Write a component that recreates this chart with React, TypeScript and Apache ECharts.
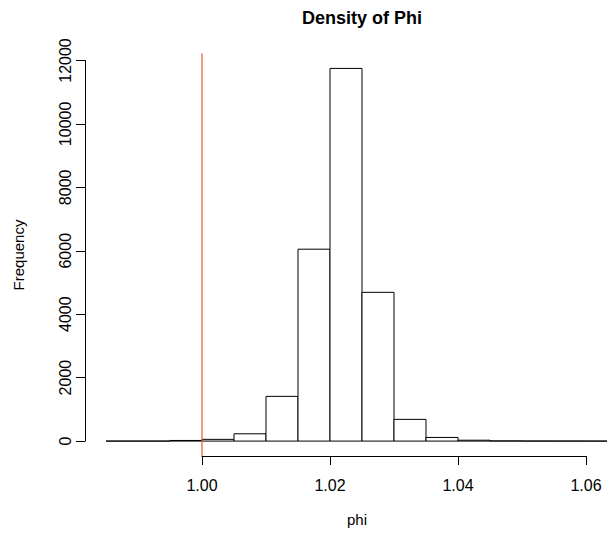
import { useEffect, useRef } from "react";
import * as echarts from "echarts";

// Histogram breaks and counts
const breaks = [0.985, 0.99, 0.995, 1.0, 1.005, 1.01, 1.015, 1.02, 1.025, 1.03, 1.035, 1.04, 1.045, 1.05, 1.055, 1.06, 1.065];
const counts = [0, 0, 20, 55, 230, 1410, 6050, 11750, 4690, 685, 115, 28, 6, 2, 1, 0];
const xTicks = [1.0, 1.02, 1.04, 1.06];
const yTicks = [0, 2000, 4000, 6000, 8000, 10000, 12000];
const refLineX = 1.0;
const xLim = [0.98172, 1.063283];
const yLim = [-470, 12220];
const titleText = "Density of Phi";
const xLabel = "phi";
const yLabel = "Frequency";

const FONT = "'Liberation Sans', Arial, Helvetica, sans-serif";

export default function App() {
  const ref = useRef<HTMLDivElement>(null);
  useEffect(() => {
    if (!ref.current) return;
    const chart = echarts.init(ref.current, null, { renderer: "svg" });
    const bins = counts.map((c, i) => [breaks[i], breaks[i + 1], c]);
    const option: any = {
      animation: false,
      backgroundColor: "#ffffff",
      title: {
        text: titleText,
        left: 357,
        top: 4,
        textAlign: "center",
        textStyle: { fontFamily: FONT, fontSize: 18, fontWeight: "bold", color: "#000" },
      },
      graphic: [
        {
          type: "text",
          x: 18,
          y: 255,
          rotation: Math.PI / 2,
          style: { text: yLabel, font: `15px ${FONT}`, fill: "#000", align: "center", verticalAlign: "middle" },
        },
        {
          type: "text",
          x: 357,
          y: 519,
          style: { text: xLabel, font: `15px ${FONT}`, fill: "#000", align: "center", verticalAlign: "middle" },
        },
      ],
      grid: [
        { left: 85, top: 53.5, width: 522, height: 402.5 },
        { left: 85, top: 60.5, width: 1, height: 380.5 },
        { left: 202, top: 53.5, width: 384, height: 402.5 },
      ],
      xAxis: [
        { type: "value", gridIndex: 0, min: xLim[0], max: xLim[1], show: false },
        { type: "value", gridIndex: 1, min: 0, max: 1, show: false },
        {
          type: "value",
          gridIndex: 2,
          min: xTicks[0],
          max: xTicks[xTicks.length - 1],
          interval: 0.02,
          position: "bottom",
          axisLine: { show: true, lineStyle: { color: "#000", width: 1 } },
          axisTick: { show: true, length: 9, lineStyle: { color: "#000", width: 1 } },
          axisLabel: {
            show: true,
            margin: 21,
            fontFamily: FONT,
            fontSize: 16,
            color: "#000",
            formatter: (v: number) => v.toFixed(2),
          },
          splitLine: { show: false },
        },
      ],
      yAxis: [
        { type: "value", gridIndex: 0, min: yLim[0], max: yLim[1], show: false },
        {
          type: "value",
          gridIndex: 1,
          min: yTicks[0],
          max: yTicks[yTicks.length - 1],
          interval: 2000,
          position: "left",
          axisLine: { show: true, lineStyle: { color: "#000", width: 1 } },
          axisTick: { show: true, length: 9, lineStyle: { color: "#000", width: 1 } },
          axisLabel: {
            show: true,
            rotate: 90,
            margin: 12,
            fontFamily: FONT,
            fontSize: 16,
            color: "#000",
            formatter: (v: number) => String(v),
          },
          splitLine: { show: false },
        },
        { type: "value", gridIndex: 2, min: 0, max: 1, show: false },
      ],
      series: [
        {
          type: "custom",
          xAxisIndex: 0,
          yAxisIndex: 0,
          clip: true,
          data: bins,
          renderItem: (_params: any, api: any) => {
            const p0 = api.coord([api.value(0), 0]);
            const p1 = api.coord([api.value(1), api.value(2)]);
            return {
              type: "rect",
              shape: { x: p0[0], y: p1[1], width: p1[0] - p0[0], height: p0[1] - p1[1] },
              style: { fill: "#ffffff", stroke: "#000000", lineWidth: 1 },
            };
          },
        },
        {
          type: "line",
          xAxisIndex: 0,
          yAxisIndex: 0,
          data: [
            [refLineX, yLim[0]],
            [refLineX, yLim[1]],
          ],
          showSymbol: false,
          symbol: "none",
          lineStyle: { color: "#f0503a", width: 1.2 },
          z: 5,
        },
      ],
    };
    chart.setOption(option);
    return () => chart.dispose();
  }, []);
  return <div ref={ref} style={{ width: 607, height: 533, position: "absolute", left: 0, top: 0 }} />;
}
